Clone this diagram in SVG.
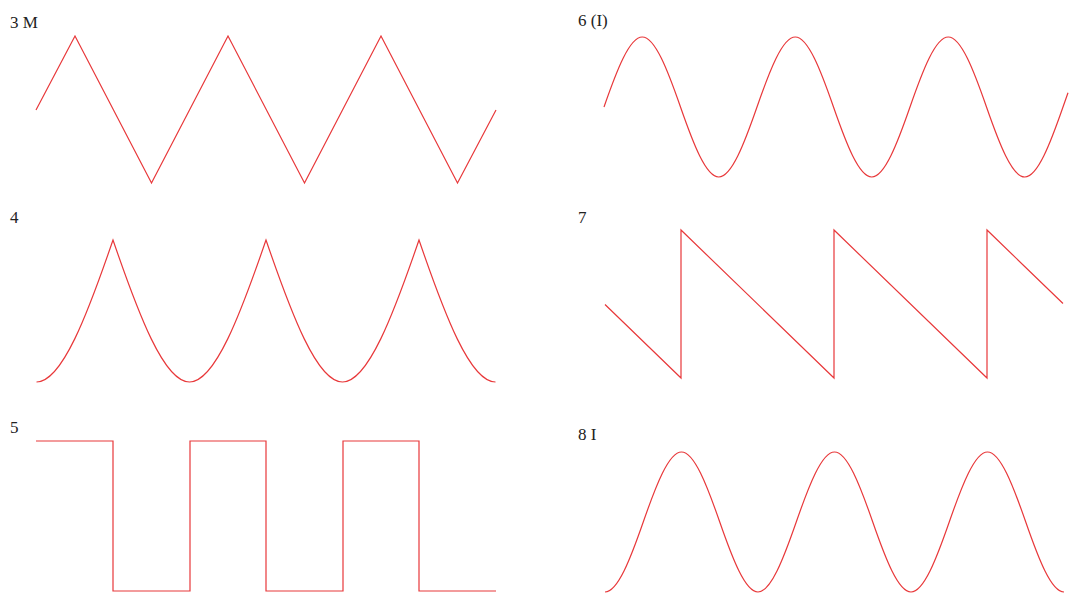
<svg xmlns="http://www.w3.org/2000/svg" width="1076" height="596" viewBox="0 0 1076 596">
<style>
.w{fill:none;stroke:#e8383a;stroke-width:1.2;stroke-linejoin:miter}
.l{font-family:"Liberation Serif","Times New Roman",serif;font-size:17px;fill:#222}
</style>
<rect width="1076" height="596" fill="#fff"/>
<g id="p3">
<text class="l" x="10" y="28">3 M</text>
<path class="w" d="M36,110 L75,36 L151.5,183 L228,36 L304.5,183 L381,36 L457.5,183 L496,110"/>
</g>
<g id="p4">
<text class="l" x="10" y="223">4</text>
<path class="w" d="M36.5,382 c25.5,0 51,-67.65 76.5,-142 c25.5,74.35 51,142 76.5,142 c25.5,0 51,-67.65 76.5,-142 c25.5,74.35 51,142 76.5,142 c25.5,0 51,-67.65 76.5,-142 c25.5,74.35 51,142 76.5,142"/>
</g>
<g id="p5">
<text class="l" x="10" y="433">5</text>
<path class="w" d="M36,441 H113 V591 H190 V441 H266 V591 H343 V441 H419 V591 H496"/>
</g>
<g id="p6">
<text class="l" x="578" y="26">6 (I)</text>
<path class="w" d="M604,107 c12.75,-36.65 25.5,-70 38.25,-70 c12.75,0 25.5,33.35 38.25,70 c12.75,36.65 25.5,70 38.25,70 c12.75,0 25.5,-33.35 38.25,-70 c12.75,-36.65 25.5,-70 38.25,-70 c12.75,0 25.5,33.35 38.25,70 c12.75,36.65 25.5,70 38.25,70 c12.75,0 25.5,-33.35 38.25,-70 c12.75,-36.65 25.5,-70 38.25,-70 c12.75,0 25.5,33.35 38.25,70 c12.75,36.65 25.5,70 38.25,70 c12.75,0 25.5,-33.35 38.25,-70 l5,-14.2"/>
</g>
<g id="p7">
<text class="l" x="578" y="223">7</text>
<path class="w" d="M605,304.5 L681,378 V230 L834,378 V230 L987,378 V230 L1063,303.5"/>
</g>
<g id="p8">
<text class="l" x="578" y="440">8 I</text>
<path class="w" d="M605,592 c12.75,0 25.5,-33.35 38.25,-70 c12.75,-36.65 25.5,-70 38.25,-70 c12.75,0 25.5,33.35 38.25,70 c12.75,36.65 25.5,70 38.25,70 c12.75,0 25.5,-33.35 38.25,-70 c12.75,-36.65 25.5,-70 38.25,-70 c12.75,0 25.5,33.35 38.25,70 c12.75,36.65 25.5,70 38.25,70 c12.75,0 25.5,-33.35 38.25,-70 c12.75,-36.65 25.5,-70 38.25,-70 c12.75,0 25.5,33.35 38.25,70 c12.75,36.65 25.5,70 38.25,70"/>
</g>
</svg>
